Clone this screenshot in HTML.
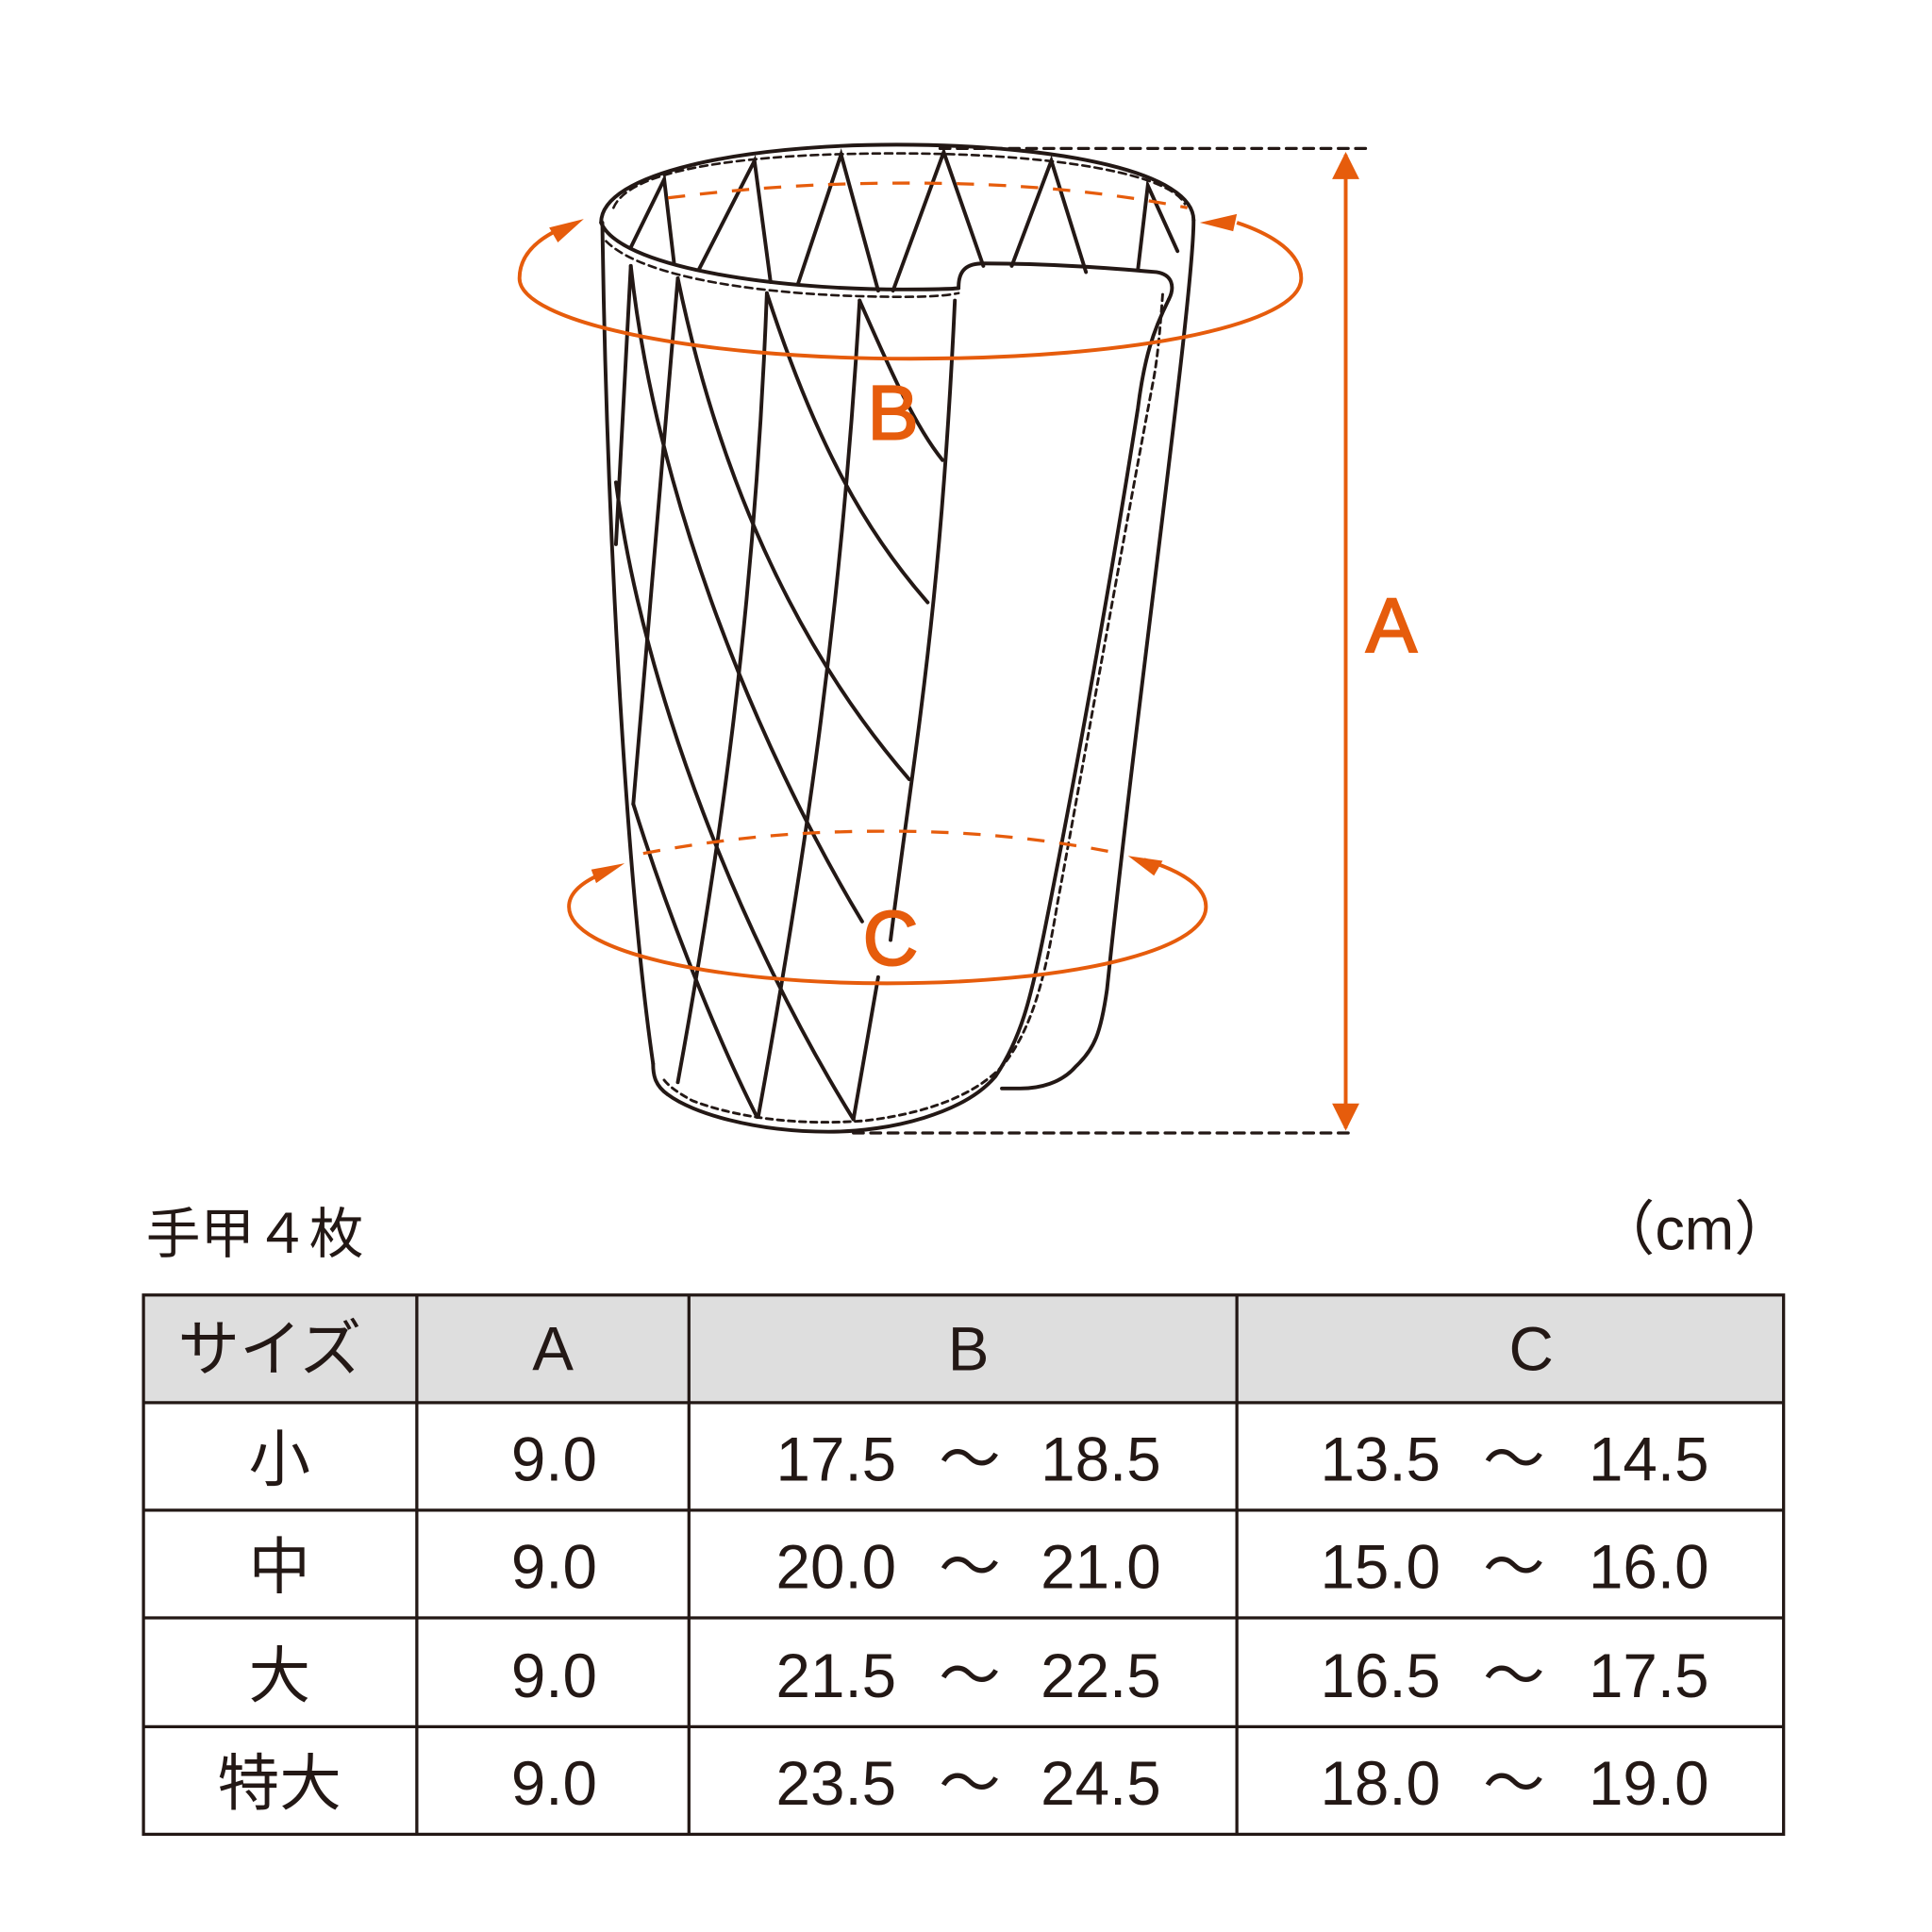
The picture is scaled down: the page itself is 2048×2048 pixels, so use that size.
<!DOCTYPE html>
<html><head><meta charset="utf-8"><style>
html,body{margin:0;padding:0;background:#fff;}
svg{display:block;}
text{font-family:"Liberation Sans","Noto Sans CJK JP",sans-serif;}
</style></head><body>
<svg width="2048" height="2048" viewBox="0 0 1562 1562" xmlns="http://www.w3.org/2000/svg">
<defs>
<marker id="ao" viewBox="0 0 10 10" refX="9" refY="5" markerWidth="28" markerHeight="22" orient="auto-start-reverse" markerUnits="userSpaceOnUse"><path d="M0,0 L10,5 L0,10 z" fill="#e65c0c"/></marker>
</defs>
<g fill="none" stroke="#231815" stroke-width="3" stroke-linecap="round">
<line x1="760" y1="120" x2="1105" y2="120" stroke-dasharray="8,6" stroke-width="2.5"/>
<line x1="690" y1="916" x2="1095" y2="916" stroke-dasharray="8,6" stroke-width="2.5"/>
<path d="M486,180 C486,140 600,117 725,117 C860,117 965,140 965,178"/>
<path d="M496,168 C510,135 610,124 725,124 C850,124 945,140 958,165" stroke-dasharray="6,4" stroke-width="2"/>
<path d="M486,180 C500,215 620,234 730,234 C750,234 765,234 775,233"/>
<path d="M490,195 C520,225 620,240 730,240 C760,240 770,238 775,237" stroke-dasharray="6,4" stroke-width="2"/>
<polyline points="510,200 537,145 545,213"/>
<polyline points="565,218 610,130 623,228"/>
<polyline points="645,230 680,125 710,235"/>
<polyline points="722,235 763,123 795,215"/>
<polyline points="818,215 850,130 878,220"/>
<polyline points="920,218 928,150 952,203"/>
<path d="M775,232 C775,218 782,213 795,213 C850,213 900,217 935,220 C948,222 950,232 945,242"/>
<path d="M965,178 C965,240 920,560 895,800 C890,835 885,848 870,862 C858,876 840,880 825,880 L810,880"/>
<path d="M940,238 C938,265 936,290 932,310 C900,480 870,650 855,730 C845,790 835,830 812,860 C790,885 750,900 700,906 C650,910 600,905 560,890 C545,882 537,875 535,870" stroke-dasharray="5,4" stroke-width="2.2"/>
<path d="M945,242 C932,268 925,290 920,330 C895,490 865,650 845,750 C833,810 825,840 805,870 C780,900 720,915 670,915 C610,915 560,900 540,885 C530,878 528,870 528,860"/>
<path d="M487,180 C490,400 505,700 528,860"/>
<line x1="510" y1="215" x2="498" y2="440"/>
<line x1="548" y1="225" x2="512" y2="650"/>
<path d="M620,237 C610,500 580,700 548,875"/>
<path d="M695,243 C680,500 650,700 613,903"/>
<path d="M772,243 C760,500 740,600 720,760"/>
<path d="M710,790 L690,905"/>
<path d="M695,243 C720,300 740,345 762,372"/>
<path d="M620,237 C660,360 700,430 750,487"/>
<path d="M548,225 C580,380 640,520 735,630"/>
<path d="M510,215 C530,400 610,600 697,745"/>
<path d="M498,390 C520,560 600,760 690,905"/>
<path d="M512,650 C540,740 580,840 612,903"/>
</g>
<g fill="none" stroke="#e65c0c" stroke-width="3">
<path d="M460,182 C432,193 420,208 420,225 C420,260 560,290 736,290 C920,290 1052,262 1052,225 C1052,205 1030,190 1000,180"/>
<path d="M540,160 C620,150 680,148 736,148 C800,148 880,152 960,168" stroke-dasharray="14,12" stroke-width="2.5"/>
<path d="M495,703 C470,712 460,722 460,733 C460,770 580,795 717,795 C860,795 975,770 975,733 C975,718 958,705 925,695"/>
<path d="M520,690 C600,675 660,672 717,672 C780,672 840,677 905,690" stroke-dasharray="14,12" stroke-width="2.5"/>
<line x1="1088" y1="125" x2="1088" y2="912" marker-start="url(#ao)" marker-end="url(#ao)"/>
</g>
<g fill="#e65c0c">
<polygon points="472,177 444,184 451,196"/>
<polygon points="970,180 1000,173 997,187"/>
<polygon points="505,698 482,714 478,703"/>
<polygon points="912,692 940,696 933,708"/>
</g>
<g fill="#e65c0c" font-size="62" stroke="#e65c0c" stroke-width="1.5" text-anchor="middle">
<text x="722" y="355">B</text>
<text x="720" y="780">C</text>
<text x="1125" y="527">A</text>
</g>
<text x="118" y="1013" font-size="44" fill="#231815">手甲４枚</text>
<text x="1450" y="1010" font-size="48" fill="#231815" text-anchor="end">（cm）</text>
<rect x="116" y="1047" width="1326" height="87" fill="#dedede"/>
<g stroke="#231815" stroke-width="2.5" fill="none">
<rect x="116" y="1047" width="1326" height="436"/>
<line x1="116" y1="1134" x2="1442" y2="1134"/>
<line x1="116" y1="1221" x2="1442" y2="1221"/>
<line x1="116" y1="1308" x2="1442" y2="1308"/>
<line x1="116" y1="1396" x2="1442" y2="1396"/>
<line x1="337" y1="1047" x2="337" y2="1483"/>
<line x1="557" y1="1047" x2="557" y2="1483"/>
<line x1="1000" y1="1047" x2="1000" y2="1483"/>
</g>
<g font-size="50" fill="#231815" text-anchor="middle">
<text x="218" y="1108">サイズ</text><text x="447" y="1108">A</text><text x="783" y="1108">B</text><text x="1238" y="1108">C</text>
</g>
<g font-size="50" fill="#231815" text-anchor="middle">
<text x="226" y="1197">小</text><text x="448" y="1197">9.0</text>
<text x="226" y="1284">中</text><text x="448" y="1284">9.0</text>
<text x="226" y="1372">大</text><text x="448" y="1372">9.0</text>
<text x="226" y="1459">特大</text><text x="448" y="1459">9.0</text>
<text x="676" y="1197">17.5</text><text x="784" y="1197">～</text><text x="890" y="1197">18.5</text>
<text x="676" y="1284">20.0</text><text x="784" y="1284">～</text><text x="890" y="1284">21.0</text>
<text x="676" y="1372">21.5</text><text x="784" y="1372">～</text><text x="890" y="1372">22.5</text>
<text x="676" y="1459">23.5</text><text x="784" y="1459">～</text><text x="890" y="1459">24.5</text>
<text x="1116" y="1197">13.5</text><text x="1224" y="1197">～</text><text x="1333" y="1197">14.5</text>
<text x="1116" y="1284">15.0</text><text x="1224" y="1284">～</text><text x="1333" y="1284">16.0</text>
<text x="1116" y="1372">16.5</text><text x="1224" y="1372">～</text><text x="1333" y="1372">17.5</text>
<text x="1116" y="1459">18.0</text><text x="1224" y="1459">～</text><text x="1333" y="1459">19.0</text>
</g>
</svg>
</body></html>
